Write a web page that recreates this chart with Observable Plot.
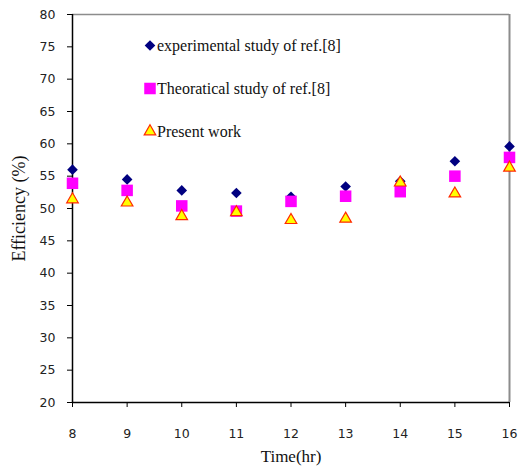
<!DOCTYPE html>
<html><head><meta charset="utf-8">
<script src="https://cdn.jsdelivr.net/npm/d3@7"></script>
<script src="https://cdn.jsdelivr.net/npm/@observablehq/plot@0.6"></script>
<style>body{margin:0;background:#fff}</style>
</head><body><div id="chart"></div>
<script>
const times = [8, 9, 10, 11, 12, 13, 14, 15, 16];
const experimental = [56.0, 54.5, 52.8, 52.4, 51.8, 53.4, 54.2, 57.3, 59.6];
const theoretical = [53.9, 52.8, 50.4, 49.6, 51.1, 51.9, 52.6, 55.0, 57.9];
const present = [51.4, 50.9, 48.8, 49.4, 48.2, 48.4, 54.0, 52.3, 56.3];
const seriesNames = ["experimental study of ref.[8]", "Theoratical study of ref.[8]", "Present work"];
const yTicks = d3.range(20, 81, 5);
const xTicks = times;

const serif = "'Liberation Serif', 'Times New Roman', serif";
const sans = "'DejaVu Sans', sans-serif";

const styles = [
  {symbol: "diamond2", fill: "#000080", stroke: "none", r: 4.8},
  {symbol: "square", fill: "#FF00FF", stroke: "none", r: 6.5},
  {symbol: "triangle", fill: "#FFFF00", stroke: "#FF2A00", strokeWidth: 1.2, r: 4.3}
];
const seriesData = [experimental, theoretical, present].map((vals, s) =>
  times.map((t, i) => ({time: t, value: vals[i], series: seriesNames[s]})));

const marks = [
  Plot.ruleY([80], {stroke: "#8c8c8c", strokeWidth: 1.5}),
  Plot.ruleX([16], {stroke: "#8c8c8c", strokeWidth: 2}),
  Plot.axisY({ticks: yTicks, tickSize: 5, tickPadding: 12, label: null, fontFamily: sans, fontSize: 12.5, fill: "#222"}),
  Plot.axisY({ticks: [], tickSize: 0, label: "Efficiency (%)", labelAnchor: "center", labelOffset: 60, labelArrow: "none",
    fontFamily: serif, fontSize: 18, fill: "#111", dy: -4}),
  Plot.axisX({ticks: xTicks, tickSize: 5, tickPadding: 22, label: null, fontFamily: sans, fontSize: 12.5, fill: "#222", tickFormat: d => String(d)}),
  Plot.ruleX([8], {stroke: "#000", strokeWidth: 1.5}),
  Plot.ruleY([20], {stroke: "#000", strokeWidth: 1.5}),
];
seriesData.forEach((data, s) => {
  marks.push(Plot.dot(data, {x: "time", y: "value", ...styles[s]}));
});
seriesNames.forEach((name, i) => {
  marks.push(Plot.dot([name], {frameAnchor: "top-left", dx: 77.5, dy: 31 + 43 * i, ...styles[i]}));
  marks.push(Plot.text([name], {frameAnchor: "top-left", dx: 84.5, dy: 31 + 43 * i, text: d => d,
    textAnchor: "start", lineAnchor: "middle", fontFamily: serif, fontSize: 16, fill: "#111"}));
});
marks.push(Plot.text(["Time(hr)"], {frameAnchor: "bottom", dy: 54, text: d => d, lineAnchor: "middle",
  fontFamily: serif, fontSize: 17, fill: "#111"}));

const chart = Plot.plot({
  width: 520,
  height: 466,
  marginLeft: 72,
  marginRight: 11,
  marginTop: 14,
  marginBottom: 64,
  x: {domain: [8, 16]},
  y: {domain: [20, 80]},
  style: {background: "#fff", overflow: "visible"},
  marks
});
document.getElementById("chart").append(chart);
</script>
</body></html>
